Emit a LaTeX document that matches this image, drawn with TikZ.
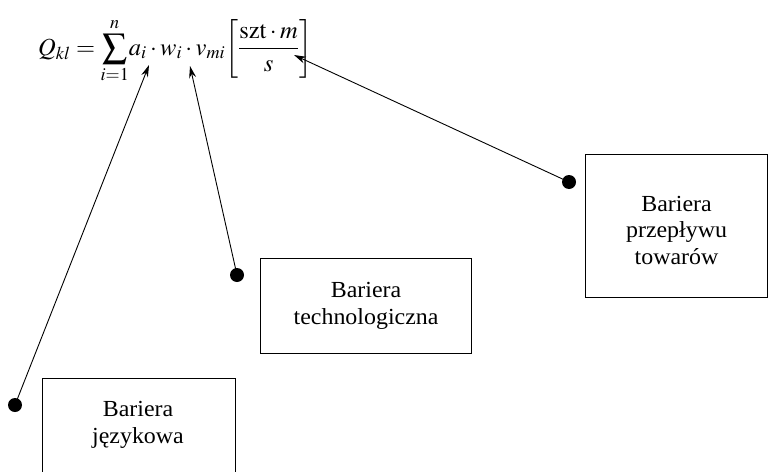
\documentclass[tikz,border=0pt]{standalone}
\usepackage{mathptmx}
\usepackage[no-math]{fontspec}
\setmainfont[FakeStretch=1.04]{Liberation Serif}
\usetikzlibrary{arrows.meta}
\tikzset{
  barrier/.style={draw, line width=1.1pt, inner sep=0pt},
  caption/.style={align=center, font=\fontsize{23}{26.5}\selectfont},
  pin/.style={circle, fill=black, inner sep=0pt, minimum size=14pt},
  pointer/.style={line width=0.9pt, -{Stealth[length=12pt,width=7pt]}}
}
\begin{document}
\begin{tikzpicture}[x=1pt,y=-1pt]
\useasboundingbox (0,0) rectangle (768,471);
\clip (0,0) rectangle (768,471);

% formula
\node[anchor=base west, inner sep=0pt, font=\fontsize{24.5}{28}\selectfont] (formula) at (38,55)
  {$\displaystyle Q_{kl}=\sum_{i=1}^{n}\!a_i\cdot w_i\cdot v_{mi}\biggl[\frac{\mathrm{szt}\cdot m}{s}\biggr]$};

% arrow targets inside the formula
\coordinate (ta) at (149,65);
\coordinate (tw) at (190,66);
\coordinate (ts) at (294,55);

% barrier boxes
\node[barrier, minimum width=193pt, minimum height=120pt, anchor=north west] (bj) at (42,378) {};
\node[caption] (lj) at (138,425) {Bariera\\językowa};

\node[barrier, minimum width=211pt, minimum height=95pt, anchor=north west] (bt) at (260,258) {};
\node[caption] (lt) at (bt.center) {Bariera\\technologiczna};

\node[barrier, minimum width=182pt, minimum height=143pt, anchor=north west] (bp) at (585,154) {};
\node[caption] (lp) at ([yshift=-4pt]bp.center) {Bariera\\przepływu\\towarów};

% pins
\node[pin] (pj) at (15,405) {};
\node[pin] (pt) at (237,275) {};
\node[pin] (pp) at (569,182) {};

% connectors
\draw[pointer] (pj.center) -- (ta);
\draw[pointer] (pt.center) -- (tw);
\draw[pointer] (pp.center) -- (ts);
\end{tikzpicture}
\end{document}
